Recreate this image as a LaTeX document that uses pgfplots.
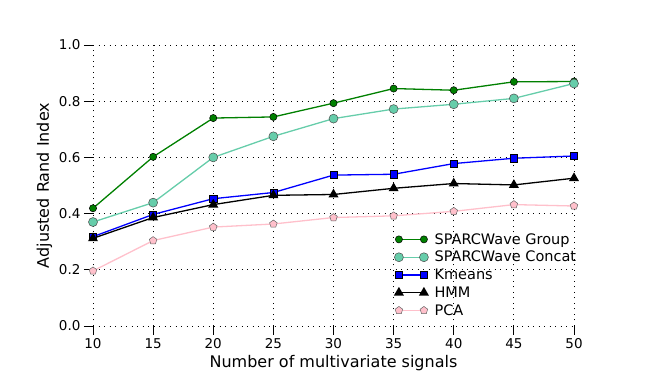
\documentclass[border=0pt]{standalone}
\usepackage{fontspec}
\setmainfont{DejaVu Sans}
\usepackage{pgfplots}
\pgfplotsset{compat=1.18}
\usetikzlibrary{plotmarks}

\definecolor{mgreen}{rgb}{0,0.5,0}
\definecolor{aqua}{RGB}{102,205,170}
\definecolor{mblue}{rgb}{0,0,1}
\definecolor{mpink}{RGB}{255,192,203}

\begin{document}
\begin{tikzpicture}
\useasboundingbox (0,0) rectangle (651pt,374pt);
\begin{axis}[
    at={(93pt,48pt)}, anchor=south west,
    scale only axis,
    width=481pt, height=281pt,
    xmin=10, xmax=50, ymin=0, ymax=1,
    xtick={10,15,...,50},
    ytick={0,0.2,...,1.0},
    /pgf/number format/assume math mode=true,
    /pgf/number format/fixed,
    /pgf/number format/fixed zerofill,
    /pgf/number format/precision=1,
    xticklabel style={/pgf/number format/precision=0, /pgf/number format/fixed zerofill=false},
    ticklabel style={font=\fontsize{13.5}{15}\selectfont},
    axis line style={draw=none},
    tick align=outside,
    major tick length=9pt,
    xtick pos=bottom, ytick pos=left,
    tick style={black, line width=0.8pt},
    grid=major,
    grid style={black, line width=0.8pt, dash pattern=on 1pt off 4.5pt},
    clip=false,
    xlabel={Number of multivariate signals},
    ylabel={Adjusted Rand Index},
    label style={font=\fontsize{16}{18}\selectfont},
    legend style={at={(0.62,0.345)}, anchor=north west, draw=none, fill=none,
        font=\fontsize{14.5}{16}\selectfont, row sep=1.6pt},
    legend cell align=left,
    legend image code/.code={\path (0pt,0pt) (33pt,0pt);
        \draw[#1] plot coordinates {(0pt,0pt) (25pt,0pt)};},
    every axis plot/.append style={line width=1.3pt},
  ]

  \addplot[mgreen, mark=*, mark size=3.6pt, mark options={fill=mgreen, draw=black, line width=0.5pt}] coordinates {
    (10,0.419) (15,0.602) (20,0.740) (25,0.744) (30,0.793)
    (35,0.845) (40,0.839) (45,0.869) (50,0.870)
  };
  \addplot[aqua, mark=*, mark size=4.5pt, mark options={fill=aqua, draw=black!70, line width=0.5pt}] coordinates {
    (10,0.370) (15,0.439) (20,0.600) (25,0.675) (30,0.738)
    (35,0.772) (40,0.789) (45,0.810) (50,0.863)
  };
  \addplot[mblue, mark=square*, mark size=3.6pt, mark options={fill=mblue, draw=black, line width=0.5pt}] coordinates {
    (10,0.318) (15,0.397) (20,0.453) (25,0.475) (30,0.537)
    (35,0.540) (40,0.578) (45,0.597) (50,0.605)
  };
  \addplot[black, mark=triangle*, mark size=4.5pt, mark options={fill=black, draw=black}] coordinates {
    (10,0.312) (15,0.386) (20,0.432) (25,0.465) (30,0.468)
    (35,0.490) (40,0.507) (45,0.502) (50,0.526)
  };
  \addplot[mpink, mark=pentagon*, mark size=4pt, mark options={fill=mpink, draw=black!60, line width=0.5pt}] coordinates {
    (10,0.196) (15,0.304) (20,0.352) (25,0.363) (30,0.386)
    (35,0.392) (40,0.408) (45,0.432) (50,0.427)
  };

  \legend{SPARCWave Group, SPARCWave Concat, Kmeans, HMM, PCA}
\end{axis}
\end{tikzpicture}
\end{document}
